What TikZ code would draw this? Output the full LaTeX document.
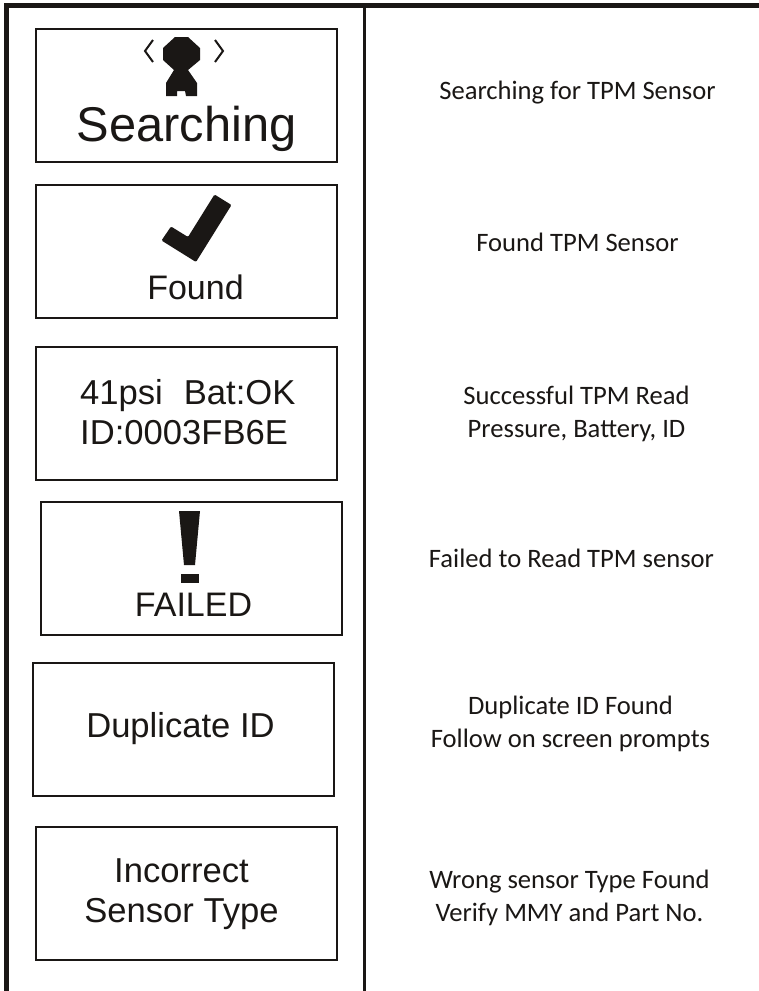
\documentclass[tikz,border=0pt]{standalone}
\usepackage{fontspec}
\setmainfont{Liberation Sans}
\newfontfamily\capt{Carlito}
\definecolor{ink}{HTML}{1A1715}
\tikzset{
  screen/.style={draw=ink,line width=2pt,minimum width=301pt,minimum height=133pt,inner sep=0pt,anchor=north west},
  lcd/.style={text=ink,inner sep=0pt,align=center,font=\fontsize{34.6}{40}\selectfont},
  caption/.style={text=ink,inner sep=0pt,align=center,font=\capt\fontsize{26.6}{32.6}\selectfont},
  glyph/.style={fill=ink,draw=none},
}
\begin{document}
\begin{tikzpicture}[x=1pt,y=-1pt]
\useasboundingbox (0,0) rectangle (759,991);
\fill[white] (0,0) rectangle (759,991);
% frame
\draw[ink,line width=5.5pt] (6.5,991) -- (6.5,5.5) -- (759,5.5);
\draw[ink,line width=3pt] (364,5) -- (364,991);
% screens
\node[screen] (s1) at (35,28) {};
\node[screen] (s2) at (35,183.5) {};
\node[screen] (s3) at (35,346) {};
\node[screen] (s4) at (40,501) {};
\node[screen] (s5) at (32,662) {};
\node[screen] (s6) at (35,826) {};
% screen texts
\node[lcd,font=\fontsize{48.8}{52}\selectfont,anchor=base] (t1) at (186.5,141) {Searching};
\node[lcd,font=\fontsize{34}{40}\selectfont,anchor=base] (t2) at (195.5,299) {Found};
\node[lcd,align=left,anchor=west] (t3) at (80,412) {41psi\hspace{0.33em} Bat:OK\\ID:0003FB6E};
\node[lcd,font=\fontsize{34}{40}\selectfont,anchor=base] (t4) at (193.5,616) {FAILED};
\node[lcd,anchor=base] (t5) at (180.5,737) {Duplicate ID};
\node[lcd,anchor=center] (t6) at (181.5,894) {Incorrect\\Sensor Type};
% captions
\node[caption] (c1) at (577.5,92.5) {Searching for TPM Sensor};
\node[caption] (c2) at (577.5,242) {Found TPM Sensor};
\node[caption] (c3) at (576.5,414) {Successful TPM Read\\Pressure, Battery, ID};
\node[caption] (c4) at (571.5,558) {Failed to Read TPM sensor};
\node[caption] (c5) at (570.5,724) {Duplicate ID Found\\Follow on screen prompts};
\node[caption] (c6) at (569.5,898) {Wrong sensor Type Found\\Verify MMY and Part No.};
% sensor icon
\fill[glyph] (175,37) -- (188,37) -- (200,48) -- (200,60) -- (188,70) -- (197,83)
  -- (197,96) -- (186,96) -- (185,91) -- (177,91) -- (177,96) -- (166,96)
  -- (166,83) -- (174,70) -- (163,60) -- (163,48) -- cycle;
\draw[ink,line width=2pt] (153,40) -- (145,51) -- (153,62);
\draw[ink,line width=2pt] (215,40) -- (223,51) -- (215,62);
% check mark
\fill[glyph,rounded corners=1.2pt] (214.5,194.5) -- (231.5,205) -- (196,262) -- (161.5,240.5) -- (171,226.5) -- (188,237) -- cycle;
% exclamation mark
\fill[glyph] (179,511) -- (200,511) -- (195,565) -- (184,565) -- cycle;
\fill[glyph] (180.5,574) -- (198.5,574) -- (198.5,583) -- (180.5,583) -- cycle;
\end{tikzpicture}
\end{document}
